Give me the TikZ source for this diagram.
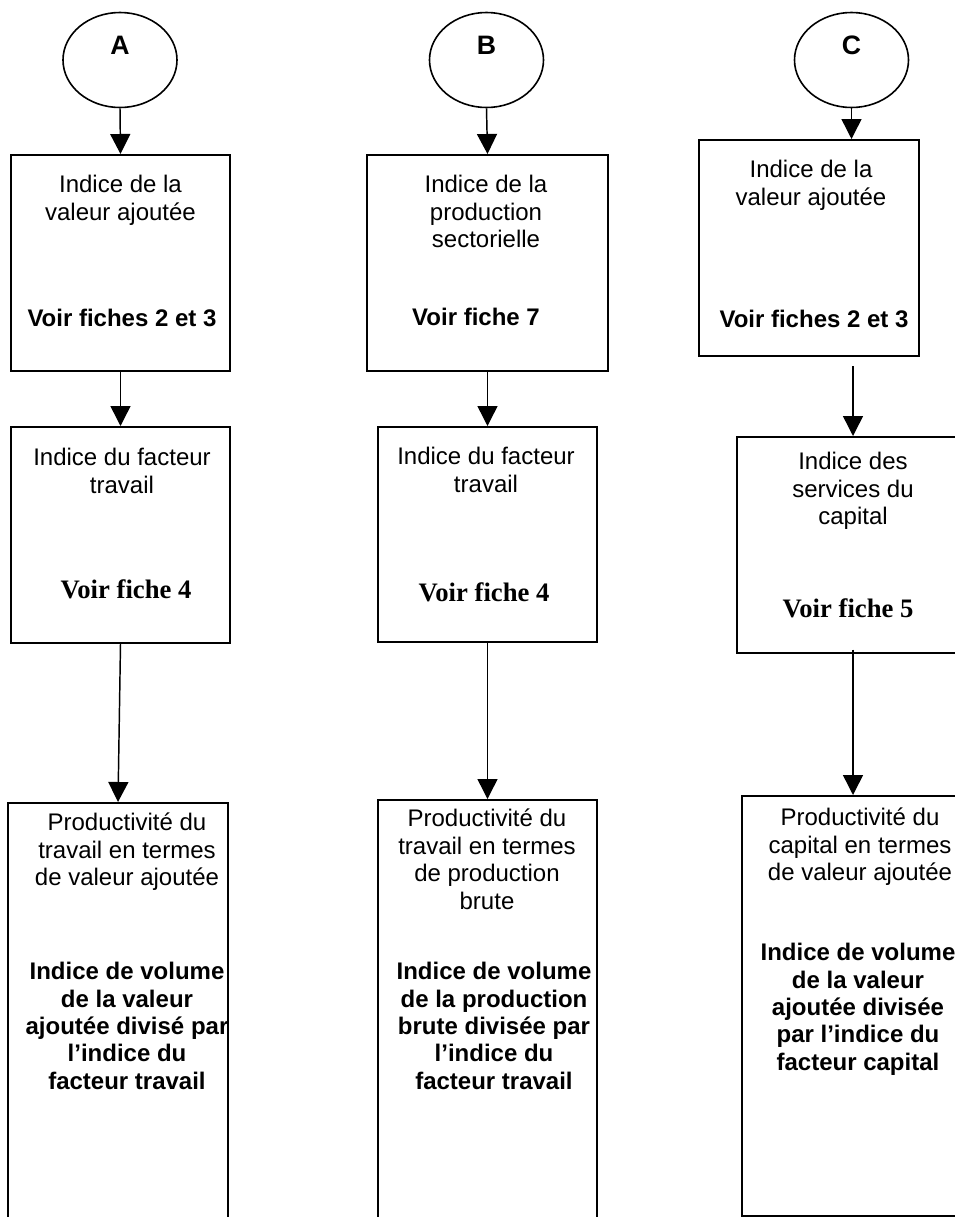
\documentclass[tikz,border=0pt]{standalone}
\usepackage{fontspec}
\setmainfont{Liberation Sans}
\newfontfamily\timesfont{Liberation Serif}
\usetikzlibrary{positioning, arrows.meta, shapes.geometric}

\begin{document}
\begin{tikzpicture}[
  x=0.75pt, y=-0.75pt,
  oval/.style={ellipse, draw, line width=1.2pt, minimum width=85.5pt,
               minimum height=71.25pt, inner sep=0pt},
  fbox/.style={draw, line width=1.3pt, anchor=north, minimum height=162pt,
               inner sep=0pt},
  txt/.style={anchor=north, inner sep=0pt, align=center,
              font=\fontsize{18}{20.6}\selectfont},
  btxt/.style={txt, font=\fontsize{18}{20.5}\selectfont\bfseries},
  stxt/.style={txt, font=\fontsize{20}{22}\selectfont\timesfont\bfseries},
  lbl/.style={font=\fontsize{20}{22}\selectfont\bfseries, yshift=11pt},
  flow/.style={-{Triangle[width=15pt, length=15pt]}, line width=1.1pt},
]
  \clip (0,0) rectangle (955,1217);
  \fill[white] (0,0) rectangle (955,1217);

  % Column A
  \node[oval, label={[lbl]center:A}] (ovA) at (120,60) {};
  \node[fbox, minimum width=164.25pt] (A1) at (120.5,154) {};
  \node[txt]  (tA1) at (120.5,175) {Indice de la\\valeur ajoutée};
  \node[btxt] (vA1) at (122,309) {Voir fiches 2 et 3};
  \node[fbox, minimum width=164.25pt] (A2) at (120.5,426) {};
  \node[txt]  (tA2) at (122,448) {Indice du facteur\\travail};
  \node[stxt] (vA2) at (126,579) {Voir fiche 4};
  \node[fbox, minimum width=165pt, minimum height=340pt] (A3) at (118,802) {};
  \node[txt]  (tA3) at (127,813) {Productivité du\\travail en termes\\de valeur ajoutée};
  \node[btxt] (vA3) at (127,962) {Indice de volume\\de la valeur\\ajoutée divisé par\\l’indice du\\facteur travail};
  \draw[flow] (ovA.south) -- (A1.north);
  \draw[flow] (A1.south) -- (A2.north);
  \draw[flow] (A2.south) -- (A3.north);

  % Column B
  \node[oval, label={[lbl]center:B}] (ovB) at (486.5,60) {};
  \node[fbox, minimum width=180.75pt] (B1) at (487.5,154) {};
  \node[txt]  (tB1) at (486,175) {Indice de la\\production\\sectorielle};
  \node[btxt] (vB1) at (476,308) {Voir fiche 7};
  \node[fbox, minimum width=164.25pt, minimum height=161.25pt] (B2) at (487.5,426) {};
  \node[txt]  (tB2) at (486,447) {Indice du facteur\\travail};
  \node[stxt] (vB2) at (484,582) {Voir fiche 4};
  \node[fbox, minimum width=164.25pt, minimum height=340pt] (B3) at (487.5,799) {};
  \node[txt]  (tB3) at (487,809) {Productivité du\\travail en termes\\de production\\brute};
  \node[btxt] (vB3) at (494,962) {Indice de volume\\de la production\\brute divisée par\\l’indice du\\facteur travail};
  \draw[flow] (ovB.south) -- (B1.north);
  \draw[flow] (B1.south) -- (B2.north);
  \draw[flow] (B2.south) -- (B3.north);

  % Column C
  \node[oval, label={[lbl]center:C}] (ovC) at (851.5,60) {};
  \node[fbox, minimum width=165pt] (C1) at (809,139) {};
  \node[txt]  (tC1) at (811,160) {Indice de la\\valeur ajoutée};
  \node[btxt] (vC1) at (814,310) {Voir fiches 2 et 3};
  \node[fbox, minimum width=174pt] (C2) at (853,436) {};
  \node[txt]  (tC2) at (853,452) {Indice des\\services du\\capital};
  \node[stxt] (vC2) at (848,598) {Voir fiche 5};
  \node[fbox, minimum width=174pt, minimum height=315pt] (C3) at (858,795) {};
  \node[txt]  (tC3) at (860,808) {Productivité du\\capital en termes\\de valeur ajoutée};
  \node[btxt] (vC3) at (858,943) {Indice de volume\\de la valeur\\ajoutée divisée\\par l’indice du\\facteur capital};
  \draw[flow] (ovC.south) -- (ovC.south |- C1.north);
  \draw[flow, shorten <=7pt] (C2.north |- C1.south) -- (C2.north);
  \draw[flow] ([yshift=3pt]C2.south) -- (C2.south |- C3.north);

\end{tikzpicture}
\end{document}
